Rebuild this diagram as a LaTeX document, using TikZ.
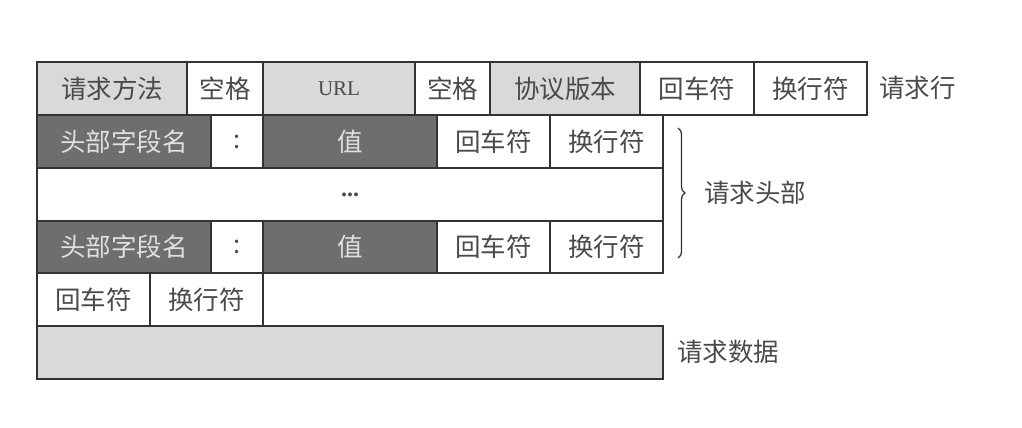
\documentclass[tikz,border=0pt]{standalone}
\usepackage{fontspec}
\setmainfont{Liberation Serif}
\newfontfamily\cjk{Noto Sans CJK SC}[Scale=1]
\usetikzlibrary{decorations.pathreplacing}
\definecolor{lg}{HTML}{D9D9D9}
\definecolor{dg}{HTML}{6E6E6E}
\definecolor{tx}{HTML}{4A4A4A}
\definecolor{ln}{HTML}{333333}
\newcommand{\cellbox}[7]{%
  \node[#6, minimum width={(#4-#2)*1pt}, minimum height={(#5-#3)*1pt}] (#1) at ({(#2+#4)/2},{(#3+#5)/2}) {#7};}
\begin{document}
\begin{tikzpicture}[x=1pt,y=-1pt,
  base/.style={draw=ln, line width=1.3pt, inner sep=0pt, outer sep=0pt, font=\fontsize{25.5}{25.5}\selectfont\cjk, text=tx},
  wcell/.style={base, fill=white},
  lcell/.style={base, fill=lg},
  dcell/.style={base, fill=dg, text=white!88!black},
  lab/.style={font=\fontsize{25.5}{25.5}\selectfont\cjk, text=tx, anchor=west, inner sep=0pt}]
\useasboundingbox (0,0) rectangle (1022,428);
% row 1: request line
\cellbox{m}{37}{62}{187}{115}{lcell}{请求方法}
\cellbox{s1}{187}{62}{263}{115}{wcell}{空格}
\cellbox{url}{263}{62}{415}{115}{lcell}{\fontsize{21}{21}\selectfont\rmfamily URL}
\cellbox{s2}{415}{62}{490}{115}{wcell}{空格}
\cellbox{ver}{490}{62}{640}{115}{lcell}{协议版本}
\cellbox{cr1}{640}{62}{754}{115}{wcell}{回车符}
\cellbox{lf1}{754}{62}{867}{115}{wcell}{换行符}
\node[lab] (rl) at (879,88) {请求行};
% row 2: header
\cellbox{h1}{37}{115}{211}{168}{dcell}{头部字段名}
\cellbox{c1}{211}{115}{263}{168}{wcell}{:}
\cellbox{v1}{263}{115}{437}{168}{dcell}{值}
\cellbox{cr2}{437}{115}{550}{168}{wcell}{回车符}
\cellbox{lf2}{550}{115}{663}{168}{wcell}{换行符}
% row 3: dots
\cellbox{dots}{37}{168}{663}{221}{wcell}{\fontsize{24}{24}\selectfont\rmfamily\bfseries ...}
% row 4: header
\cellbox{h2}{37}{221}{211}{273}{dcell}{头部字段名}
\cellbox{c2}{211}{221}{263}{273}{wcell}{:}
\cellbox{v2}{263}{221}{437}{273}{dcell}{值}
\cellbox{cr3}{437}{221}{550}{273}{wcell}{回车符}
\cellbox{lf3}{550}{221}{663}{273}{wcell}{换行符}
% row 5: empty line
\cellbox{cr4}{37}{273}{150}{326}{wcell}{回车符}
\cellbox{lf4}{150}{273}{263}{326}{wcell}{换行符}
% row 6: body
\cellbox{body}{37}{326}{663}{379}{lcell}{}
% brace and labels
\coordinate (bt) at (678,128);
\coordinate (bb) at (678,258);
\draw[ln, line width=1.3pt, decorate, decoration={brace, amplitude=7pt}] (bt) -- (bb);
\node[lab] (hd) at (704,193) {请求头部};
\node[lab] (bd) at (677,352) {请求数据};
\end{tikzpicture}
\end{document}
